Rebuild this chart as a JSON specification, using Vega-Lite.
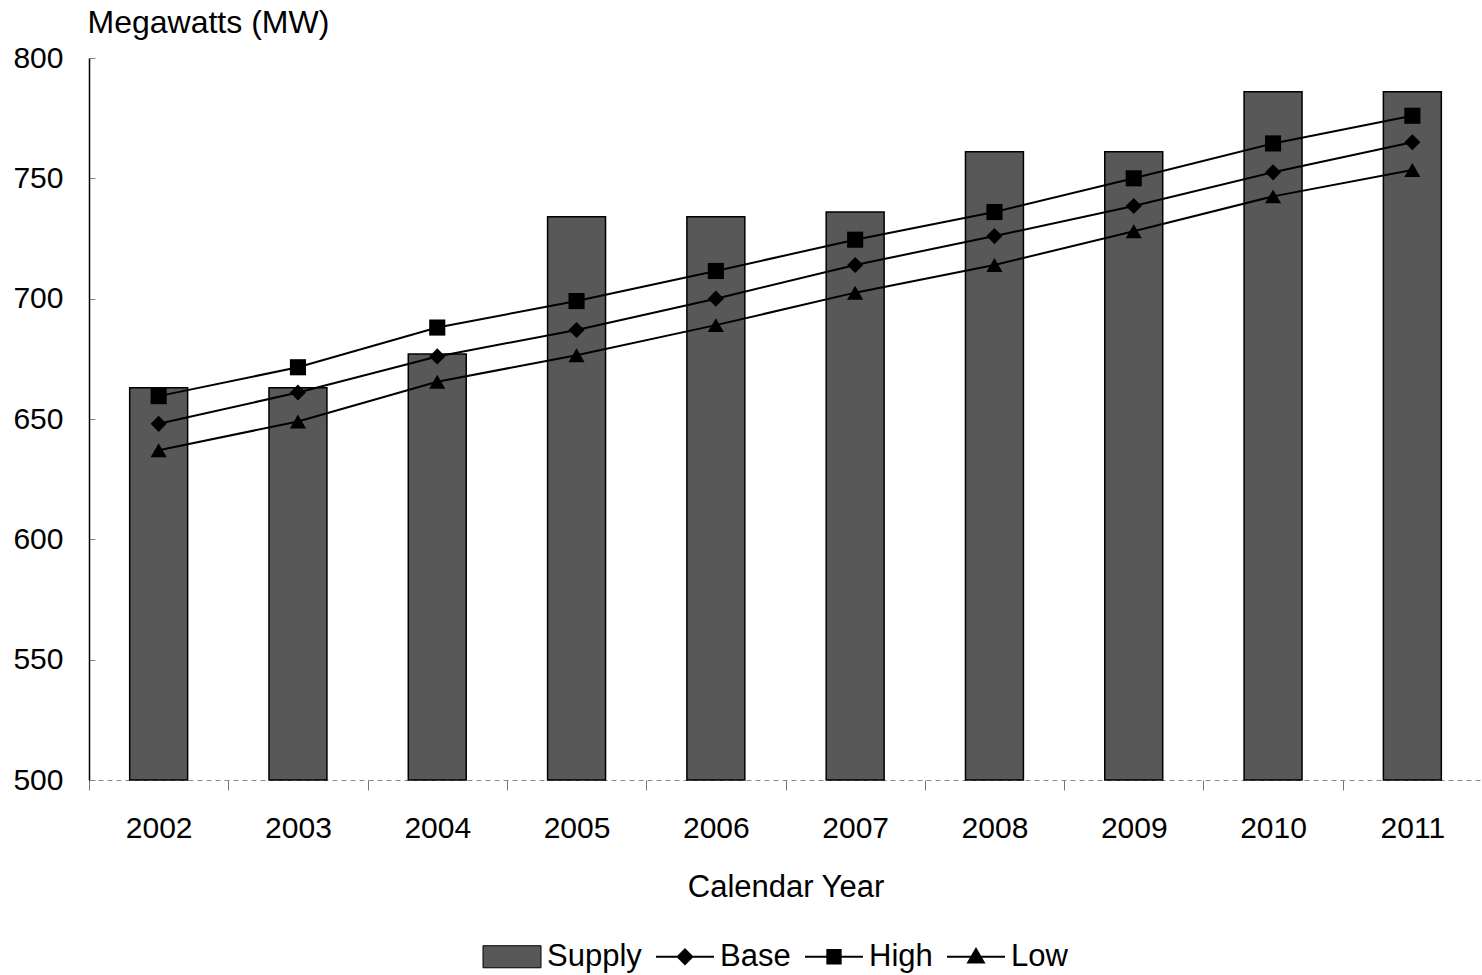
{
  "$schema": "https://vega.github.io/schema/vega-lite/v6.json",
  "width": 1393,
  "height": 722,
  "autosize": {"type": "none"},
  "padding": {"left": 89, "top": 58, "right": 0, "bottom": 195},
  "background": "white",
  "config": {
    "view": {"stroke": null},
    "font": "Liberation Sans",
    "axis": {"labelFont": "Liberation Sans", "titleFont": "Liberation Sans", "labelColor": "black", "titleColor": "black", "titleFontWeight": "normal", "labelFontSize": 30, "titleFontSize": 31, "grid": false},
    "legend": {"labelFont": "Liberation Sans", "labelFontSize": 31, "labelColor": "black"}
  },
  "data": {
    "values": [
      {"year": "2002", "series": "Supply", "value": 663},
      {"year": "2003", "series": "Supply", "value": 663},
      {"year": "2004", "series": "Supply", "value": 677},
      {"year": "2005", "series": "Supply", "value": 734},
      {"year": "2006", "series": "Supply", "value": 734},
      {"year": "2007", "series": "Supply", "value": 736},
      {"year": "2008", "series": "Supply", "value": 761},
      {"year": "2009", "series": "Supply", "value": 761},
      {"year": "2010", "series": "Supply", "value": 786},
      {"year": "2011", "series": "Supply", "value": 786},
      {"year": "2002", "series": "Base", "value": 648},
      {"year": "2003", "series": "Base", "value": 661},
      {"year": "2004", "series": "Base", "value": 676},
      {"year": "2005", "series": "Base", "value": 687},
      {"year": "2006", "series": "Base", "value": 700},
      {"year": "2007", "series": "Base", "value": 714},
      {"year": "2008", "series": "Base", "value": 726},
      {"year": "2009", "series": "Base", "value": 738.5},
      {"year": "2010", "series": "Base", "value": 752.5},
      {"year": "2011", "series": "Base", "value": 765},
      {"year": "2002", "series": "High", "value": 659.5},
      {"year": "2003", "series": "High", "value": 671.5},
      {"year": "2004", "series": "High", "value": 688},
      {"year": "2005", "series": "High", "value": 699},
      {"year": "2006", "series": "High", "value": 711.5},
      {"year": "2007", "series": "High", "value": 724.5},
      {"year": "2008", "series": "High", "value": 736},
      {"year": "2009", "series": "High", "value": 750},
      {"year": "2010", "series": "High", "value": 764.5},
      {"year": "2011", "series": "High", "value": 776},
      {"year": "2002", "series": "Low", "value": 637},
      {"year": "2003", "series": "Low", "value": 649},
      {"year": "2004", "series": "Low", "value": 665.5},
      {"year": "2005", "series": "Low", "value": 676.5},
      {"year": "2006", "series": "Low", "value": 689},
      {"year": "2007", "series": "Low", "value": 702.5},
      {"year": "2008", "series": "Low", "value": 714},
      {"year": "2009", "series": "Low", "value": 728},
      {"year": "2010", "series": "Low", "value": 742.5},
      {"year": "2011", "series": "Low", "value": 753.5}
    ]
  },
  "encoding": {
    "x": {
      "field": "year", "type": "ordinal",
      "scale": {"paddingInner": 0, "paddingOuter": 0},
      "axis": {
        "title": "Calendar Year", "labelAngle": 0,
        "domainDash": [5, 4], "domainColor": "#8a8a8a", "domainWidth": 1,
        "tickBand": "extent", "tickSize": 10, "tickColor": "#777", "tickWidth": 1,
        "labelPadding": 23, "titleY": 92, "titleBaseline": "top"
      }
    },
    "y": {
      "field": "value", "type": "quantitative",
      "scale": {"domain": [500, 800], "zero": false, "nice": false},
      "axis": {
        "title": "Megawatts (MW)", "titleAngle": 0, "titleAlign": "left", "titleBaseline": "middle",
        "titleX": -2, "titleY": -36, "titleFontSize": 32,
        "values": [500, 550, 600, 650, 700, 750, 800],
        "domainColor": "black", "domainWidth": 1.5,
        "tickSize": -6, "tickColor": "#888", "labelPadding": 32, "labelBaseline": "middle"
      }
    }
  },
  "layer": [
    {
      "transform": [{"filter": "datum.series == 'Supply'"}],
      "mark": {"type": "bar", "stroke": "black", "strokeWidth": 1.5, "width": {"band": 0.416}},
      "encoding": {
        "y2": {"datum": 500},
        "color": {
          "field": "series", "type": "nominal",
          "scale": {"domain": ["Supply", "Base", "High", "Low"], "range": ["#585858", "black", "black", "black"]},
          "legend": {
            "title": null, "orient": "none", "legendX": 393, "legendY": 883,
            "direction": "horizontal", "columns": 4, "padding": 0,
            "symbolSize": 3364, "labelOffset": 34, "columnPadding": 10,
            "symbolStrokeColor": "black",
            "encode": {
              "symbols": {
                "update": {
                  "shape": {"signal": "datum.value == 'Supply' ? 'M-0.5,-0.38H1.5V0.38H-0.5Z' : datum.value == 'Base' ? 'M-0.5,0H1.5M0.5,-0.25L0.75,0L0.5,0.25L0.25,0Z' : datum.value == 'High' ? 'M-0.5,0H1.5M0.27,-0.23H0.73V0.23H0.27Z' : 'M-0.5,0H1.5M0.5,-0.27L0.77,0.2H0.23Z'"},
                  "stroke": {"value": "black"},
                  "strokeWidth": {"signal": "datum.value == 'Supply' ? 1 : 2"},
                  "opacity": {"value": 1}
                }
              }
            }
          }
        }
      }
    },
    {
      "transform": [{"filter": "datum.series != 'Supply'"}],
      "mark": {"type": "line", "color": "black", "strokeWidth": 2},
      "encoding": {"detail": {"field": "series"}}
    },
    {
      "transform": [{"filter": "datum.series != 'Supply'"}],
      "mark": {"type": "point", "filled": true, "size": 260, "opacity": 1},
      "encoding": {
        "color": {"field": "series", "type": "nominal"},
        "shape": {
          "field": "series", "type": "nominal",
          "scale": {"domain": ["Base", "High", "Low"], "range": ["diamond", "square", "triangle-up"]},
          "legend": null
        }
      }
    }
  ]
}
